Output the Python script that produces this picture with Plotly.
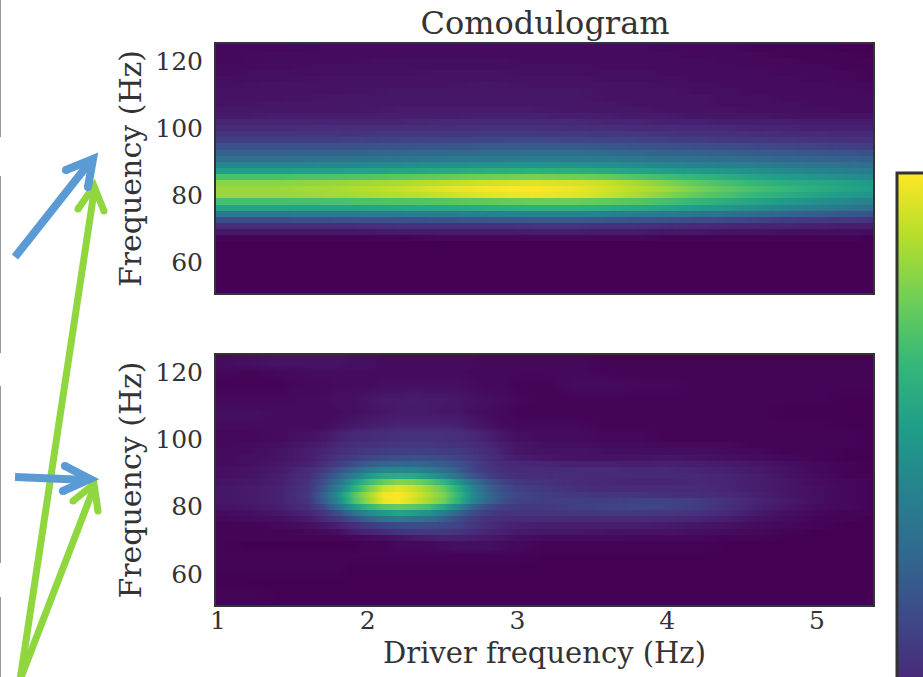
import plotly.graph_objects as go

W, H = 923, 677
FONT = "DejaVu Serif"
INK = "#333333"

tick_freq = [60, 80, 100, 120]
tick_driver = [1, 2, 3, 4, 5]
title_text = "Comodulogram"
xlabel = "Driver frequency (Hz)"
ylabel = "Frequency (Hz)"

top_driver = [1.0, 1.4, 1.8, 2.2, 2.5, 2.8, 3.1, 3.4, 3.6, 3.8, 4.0, 4.2, 4.4, 4.6, 4.8, 5.0, 5.2, 5.38]
top_freq = [123.6, 121.8, 120.0, 118.2, 116.3, 114.5, 112.7, 110.9, 109.0, 107.2, 105.4, 103.6, 101.8,
            99.9, 98.1, 96.3, 94.5, 92.6, 90.8, 89.0, 87.2, 85.3, 83.5, 81.7, 79.9, 78.1, 76.2, 74.4,
            72.6, 70.8, 68.9, 67.1, 65.3, 63.5, 61.7, 59.8, 58.0, 56.2, 54.4, 52.5, 50.7]
top_power = [
    [2, 2, 3, 3, 3, 3, 3, 3, 3, 3, 2, 2, 2, 1, 1, 1, 0, 0],
    [2, 3, 3, 3, 3, 3, 3, 3, 3, 3, 3, 2, 2, 2, 1, 1, 1, 0],
    [2, 3, 3, 4, 4, 4, 3, 3, 3, 3, 3, 3, 2, 2, 2, 1, 1, 1],
    [3, 3, 4, 4, 4, 4, 4, 4, 3, 3, 3, 3, 3, 2, 2, 2, 1, 1],
    [3, 4, 4, 4, 5, 5, 4, 4, 4, 4, 3, 3, 3, 3, 2, 2, 2, 1],
    [4, 4, 5, 5, 5, 5, 5, 5, 4, 4, 4, 3, 3, 3, 3, 2, 2, 1],
    [4, 5, 5, 5, 5, 6, 5, 5, 5, 5, 4, 4, 3, 3, 3, 3, 2, 2],
    [5, 5, 5, 6, 6, 6, 6, 6, 5, 5, 5, 4, 4, 3, 3, 3, 3, 2],
    [5, 5, 6, 6, 6, 6, 6, 6, 5, 5, 5, 5, 4, 4, 3, 3, 3, 3],
    [5, 6, 6, 6, 6, 6, 6, 6, 6, 5, 5, 5, 4, 4, 4, 3, 3, 3],
    [6, 6, 6, 7, 7, 7, 7, 6, 6, 6, 5, 5, 5, 4, 4, 4, 3, 3],
    [7, 8, 8, 8, 8, 9, 9, 8, 8, 7, 7, 6, 6, 6, 5, 5, 5, 5],
    [10, 10, 10, 10, 11, 11, 11, 11, 10, 10, 9, 9, 8, 8, 8, 7, 7, 7],
    [12, 12, 13, 13, 13, 14, 14, 13, 13, 12, 12, 11, 11, 10, 10, 9, 9, 9],
    [15, 15, 15, 16, 16, 17, 17, 17, 16, 16, 15, 14, 14, 13, 12, 12, 11, 11],
    [19, 19, 19, 20, 21, 21, 22, 21, 21, 20, 19, 18, 17, 17, 16, 15, 14, 14],
    [25, 25, 25, 26, 27, 28, 28, 28, 27, 26, 25, 24, 23, 22, 21, 20, 19, 18],
    [31, 31, 32, 33, 34, 35, 36, 36, 35, 33, 32, 31, 30, 29, 28, 27, 26, 25],
    [37, 37, 38, 39, 40, 42, 42, 42, 41, 39, 38, 37, 36, 35, 33, 32, 31, 30],
    [46, 46, 47, 48, 50, 51, 52, 51, 50, 48, 46, 44, 43, 42, 40, 39, 37, 36],
    [56, 56, 57, 58, 60, 62, 63, 62, 60, 58, 56, 54, 52, 50, 47, 45, 43, 41],
    [71, 71, 72, 74, 76, 78, 79, 78, 76, 72, 69, 66, 62, 58, 55, 52, 49, 47],
    [82, 82, 84, 87, 90, 93, 95, 94, 91, 86, 80, 75, 70, 66, 62, 60, 57, 54],
    [85, 85, 87, 91, 96, 99, 100, 97, 93, 89, 85, 79, 74, 70, 66, 62, 58, 55],
    [84, 84, 86, 89, 92, 96, 98, 96, 92, 87, 81, 75, 71, 66, 62, 58, 54, 51],
    [70, 70, 71, 72, 73, 75, 77, 77, 75, 73, 70, 66, 62, 58, 54, 50, 47, 44],
    [58, 58, 58, 59, 60, 62, 63, 63, 62, 60, 58, 55, 52, 49, 45, 42, 39, 36],
    [41, 41, 42, 42, 43, 44, 45, 45, 44, 42, 41, 39, 37, 34, 32, 29, 27, 25],
    [24, 24, 25, 25, 26, 27, 28, 28, 27, 26, 25, 23, 22, 20, 18, 17, 16, 15],
    [13, 13, 13, 14, 14, 14, 15, 15, 14, 14, 13, 12, 11, 10, 10, 9, 8, 8],
    [6, 6, 6, 7, 7, 7, 8, 8, 7, 7, 6, 6, 5, 5, 4, 4, 4, 3],
    [1, 1, 1, 1, 2, 2, 2, 2, 2, 2, 1, 1, 1, 1, 1, 1, 1, 0],
    [0, 0, 0, 0, 0, 0, 0, 0, 0, 0, 0, 0, 0, 0, 0, 0, 0, 0],
    [0, 0, 0, 0, 0, 0, 0, 0, 0, 0, 0, 0, 0, 0, 0, 0, 0, 0],
    [0, 0, 0, 0, 0, 0, 0, 0, 0, 0, 0, 0, 0, 0, 0, 0, 0, 0],
    [0, 0, 0, 0, 0, 0, 0, 0, 0, 0, 0, 0, 0, 0, 0, 0, 0, 0],
    [0, 0, 0, 0, 0, 0, 0, 0, 0, 0, 0, 0, 0, 0, 0, 0, 0, 0],
    [0, 0, 0, 0, 0, 0, 0, 0, 0, 0, 0, 0, 0, 0, 0, 0, 0, 0],
    [0, 0, 0, 0, 0, 0, 0, 0, 0, 0, 0, 0, 0, 0, 0, 0, 0, 0],
    [0, 0, 0, 0, 0, 0, 0, 0, 0, 0, 0, 0, 0, 0, 0, 0, 0, 0],
    [0, 0, 0, 0, 0, 0, 0, 0, 0, 0, 0, 0, 0, 0, 0, 0, 0, 0],
]

bottom_driver = [1.0, 1.2, 1.4, 1.6, 1.7, 1.8, 1.9, 2.0, 2.1, 2.2, 2.3, 2.4, 2.5, 2.6, 2.7, 2.8, 2.9, 3.0,
                 3.2, 3.4, 3.6, 3.8, 4.0, 4.2, 4.4, 4.6, 4.8, 5.0, 5.2, 5.38]
bottom_freq = [124, 120, 116, 112, 108, 104, 100.0, 98.2, 96.4, 94.5, 92.7, 90.9, 89.1, 87.2, 85.4, 83.6,
               81.7, 79.9, 78.1, 76.3, 74.4, 72.6, 70.8, 69.0, 66, 62, 58, 54, 51]
bottom_power = [
    [3, 4, 5, 5, 5, 5, 4, 4, 3, 3, 3, 3, 3, 3, 3, 2, 2, 2, 2, 2, 1, 1, 1, 1, 1, 1, 1, 1, 1, 1],
    [2, 1, 2, 3, 3, 3, 3, 3, 3, 3, 3, 3, 3, 3, 2, 2, 2, 2, 2, 2, 1, 1, 1, 1, 1, 1, 1, 1, 1, 1],
    [1, 1, 1, 2, 2, 3, 3, 3, 4, 4, 4, 4, 4, 4, 3, 2, 2, 1, 1, 3, 3, 2, 2, 1, 1, 1, 1, 1, 1, 1],
    [2, 2, 2, 3, 3, 4, 4, 6, 7, 7, 8, 7, 7, 6, 5, 4, 3, 2, 1, 1, 1, 1, 1, 1, 1, 1, 1, 1, 0, 0],
    [4, 4, 3, 3, 3, 3, 4, 5, 6, 7, 7, 7, 6, 6, 4, 3, 2, 1, 1, 1, 1, 1, 1, 1, 1, 1, 0, 0, 0, 0],
    [3, 3, 3, 3, 3, 5, 7, 8, 9, 10, 10, 10, 10, 9, 7, 5, 3, 2, 2, 2, 1, 1, 1, 1, 1, 1, 1, 1, 0, 0],
    [2, 2, 3, 5, 6, 9, 11, 12, 13, 14, 14, 14, 14, 13, 11, 9, 6, 4, 3, 3, 2, 2, 1, 1, 1, 1, 1, 1, 1, 0],
    [2, 3, 4, 7, 8, 11, 13, 14, 15, 16, 16, 16, 15, 14, 13, 11, 8, 6, 4, 4, 3, 3, 2, 2, 2, 1, 1, 1, 1, 0],
    [3, 3, 5, 8, 10, 13, 15, 17, 18, 19, 19, 19, 18, 17, 15, 12, 9, 6, 5, 5, 4, 4, 4, 4, 3, 2, 1, 1, 0, 0],
    [3, 4, 5, 8, 11, 15, 18, 21, 23, 24, 25, 24, 23, 20, 17, 13, 10, 8, 6, 5, 5, 5, 6, 5, 4, 3, 2, 1, 0, 0],
    [3, 4, 6, 9, 13, 18, 24, 29, 32, 33, 33, 32, 29, 25, 20, 15, 12, 11, 10, 9, 9, 8, 9, 8, 7, 6, 4, 2, 1, 0],
    [4, 5, 7, 12, 17, 25, 33, 41, 46, 47, 46, 42, 36, 29, 21, 16, 13, 12, 12, 12, 12, 11, 11, 10, 9, 7, 5, 2, 1, 0],
    [4, 5, 8, 13, 21, 31, 43, 54, 60, 62, 60, 55, 47, 37, 27, 20, 15, 13, 13, 12, 11, 11, 11, 11, 10, 8, 5, 3, 1, 1],
    [5, 6, 8, 14, 24, 37, 54, 68, 76, 82, 80, 74, 66, 52, 38, 27, 20, 16, 14, 12, 11, 10, 10, 11, 10, 8, 6, 3, 2, 1],
    [6, 7, 9, 15, 27, 43, 62, 78, 92, 96, 92, 85, 76, 62, 46, 32, 24, 19, 16, 13, 12, 12, 12, 12, 10, 8, 6, 4, 2, 1],
    [6, 7, 9, 16, 31, 50, 72, 86, 98, 100, 95, 88, 80, 66, 48, 34, 26, 21, 18, 16, 15, 15, 14, 13, 12, 9, 6, 4, 2, 1],
    [6, 7, 9, 15, 29, 47, 70, 84, 97, 100, 93, 86, 78, 64, 46, 33, 25, 20, 18, 19, 19, 20, 20, 18, 14, 10, 7, 4, 2, 1],
    [5, 6, 8, 13, 22, 37, 54, 66, 73, 76, 74, 70, 60, 46, 32, 23, 18, 17, 17, 19, 20, 21, 20, 18, 13, 9, 6, 3, 2, 1],
    [3, 4, 6, 10, 15, 24, 36, 47, 54, 58, 56, 50, 42, 32, 23, 18, 15, 15, 15, 16, 17, 17, 16, 14, 11, 7, 4, 2, 1, 1],
    [2, 3, 4, 7, 11, 16, 24, 32, 38, 40, 39, 36, 30, 23, 18, 14, 13, 12, 12, 12, 12, 12, 11, 10, 8, 5, 3, 1, 1, 0],
    [1, 1, 2, 4, 6, 9, 13, 17, 20, 22, 23, 23, 22, 20, 16, 13, 10, 9, 8, 8, 8, 8, 7, 6, 5, 3, 2, 1, 0, 0],
    [1, 1, 1, 2, 3, 4, 8, 10, 12, 15, 16, 16, 16, 15, 12, 10, 9, 7, 6, 6, 5, 5, 5, 4, 3, 2, 1, 0, 0, 0],
    [1, 1, 1, 1, 1, 1, 2, 3, 4, 5, 7, 8, 9, 9, 8, 7, 6, 4, 3, 3, 3, 2, 2, 2, 1, 1, 0, 0, 0, 0],
    [1, 0, 0, 0, 0, 0, 0, 1, 1, 2, 2, 2, 3, 4, 4, 4, 3, 2, 1, 1, 1, 1, 1, 1, 0, 0, 0, 0, 0, 0],
    [1, 1, 1, 1, 1, 1, 1, 1, 1, 1, 1, 1, 1, 1, 1, 1, 1, 1, 0, 0, 0, 0, 0, 0, 0, 0, 0, 0, 0, 0],
    [1, 1, 1, 1, 1, 1, 0, 0, 0, 0, 0, 0, 0, 0, 0, 0, 0, 0, 0, 0, 0, 0, 0, 0, 0, 0, 0, 0, 0, 0],
    [0, 0, 0, 0, 0, 0, 0, 0, 0, 0, 0, 0, 0, 0, 0, 0, 0, 0, 0, 0, 0, 0, 0, 0, 0, 0, 0, 0, 0, 0],
    [1, 1, 0, 0, 0, 0, 0, 0, 0, 0, 0, 0, 0, 0, 0, 0, 0, 0, 0, 0, 0, 0, 0, 0, 0, 0, 0, 0, 0, 0],
    [1, 1, 0, 0, 0, 0, 0, 0, 0, 0, 0, 0, 0, 0, 0, 0, 0, 0, 0, 0, 0, 0, 0, 0, 0, 0, 0, 0, 0, 0],
]


def px(x):
    return x / W


def py(y):
    return 1 - y / H


def stepped_rows(freqs, rows):
    """Keep finely spaced frequency rows as flat bands by giving each two y positions, ascending,
    so zsmooth only blends along the driver axis there; wider-spaced rows stay single."""
    pairs = sorted(zip(freqs, rows), key=lambda p: p[0])
    ys, zs = [], []
    for i, (f, row) in enumerate(pairs):
        below = f - pairs[i - 1][0] if i else 1.9
        above = pairs[i + 1][0] - f if i < len(pairs) - 1 else 1.9
        if below > 2.5 and above > 2.5:
            ys.append(f)
            zs.append(row)
            continue
        lo = f - below / 2 + 0.02 if i else f - 1
        hi = f + above / 2 - 0.02 if i < len(pairs) - 1 else f + 1.5
        ys += [lo, hi]
        zs += [row, row]
    return ys, zs


fig = go.Figure()
ty, tz = stepped_rows(top_freq, top_power)
by, bz = stepped_rows(bottom_freq, bottom_power)
fig.add_trace(go.Heatmap(x=top_driver, y=ty, z=tz, coloraxis="coloraxis", zsmooth="best",
                         xaxis="x", yaxis="y"))
fig.add_trace(go.Heatmap(x=bottom_driver, y=by, z=bz, coloraxis="coloraxis", zsmooth="best",
                         xaxis="x2", yaxis="y2"))

# Annotation strokes drawn over the page, in page pixels
GREEN, BLUE = "#8fd63f", "#5b9bd5"
shapes = []


def stroke(points, color, width=7, caps=()):
    path = "M " + " L ".join(f"{px(a):.5f} {py(b):.5f}" for a, b in points)
    shapes.append(dict(type="path", xref="paper", yref="paper", path=path,
                       line=dict(color=color, width=width), layer="above"))
    for a, b in caps:
        r = width / 2
        shapes.append(dict(type="circle", xref="paper", yref="paper",
                           x0=px(a - r), x1=px(a + r), y0=py(b + r), y1=py(b - r),
                           fillcolor=color, line=dict(width=0), layer="above"))


for seg in [(0, 137), (176, 353), (386, 563), (597, 677)]:
    shapes.append(dict(type="line", xref="paper", yref="paper", x0=0, x1=0, y0=py(seg[0]), y1=py(seg[1]),
                       line=dict(color="#999999", width=2), layer="above"))

stroke([(20, 680), (94, 192)], GREEN)
stroke([(78, 209), (94, 186), (104, 211)], GREEN, caps=[(78, 209), (104, 211)])
stroke([(20, 680), (93, 490)], GREEN)
stroke([(73, 501), (94, 484), (98, 511)], GREEN, caps=[(73, 501), (98, 511)])
stroke([(15, 257), (90, 162)], BLUE, width=8)
stroke([(66, 170), (93, 159), (88, 187)], BLUE, width=8, caps=[(66, 170), (88, 187)])
stroke([(15, 477), (88, 480)], BLUE, width=8)
stroke([(65, 466), (90, 479), (63, 491)], BLUE, width=8, caps=[(65, 466), (63, 491)])

axis_common = dict(showline=True, mirror=True, linecolor=INK, linewidth=2, ticks="", showgrid=False,
                   zeroline=False, tickfont=dict(family=FONT, size=25, color=INK), automargin=False)
xrange_ = [0.987, 5.375]
yrange_ = [50.8, 125]
XDOM = [px(216), px(873)]

fig.update_layout(
    width=W, height=H,
    margin=dict(l=0, r=0, t=0, b=0, autoexpand=False),
    paper_bgcolor="white", plot_bgcolor="white",
    title=dict(text=title_text, x=px(545), xanchor="center", y=py(23), yanchor="middle",
               font=dict(family=FONT, size=32, color=INK)),
    coloraxis=dict(colorscale="Viridis", cmin=0, cmax=100,
                   colorbar=dict(x=px(897), xanchor="left", xpad=0, ypad=0, thickness=60,
                                 y=py(173), yanchor="top", len=573 / H, lenmode="fraction",
                                 outlinecolor=INK, outlinewidth=3, showticklabels=False, ticks="")),
    xaxis=dict(domain=XDOM, range=xrange_, anchor="y", showticklabels=False,
               tickvals=tick_driver, **axis_common),
    yaxis=dict(domain=[py(293), py(44)], range=yrange_, anchor="x", tickvals=tick_freq,
               ticklabelstandoff=6,
               title=dict(text=ylabel, font=dict(family=FONT, size=30, color=INK), standoff=5), **axis_common),
    xaxis2=dict(domain=XDOM, range=xrange_, anchor="y2", tickvals=tick_driver,
                ticklabelstandoff=-8,
                title=dict(text=xlabel, font=dict(family=FONT, size=29, color=INK), standoff=9), **axis_common),
    yaxis2=dict(domain=[py(605), py(355)], range=yrange_, anchor="x2", tickvals=tick_freq,
                ticklabelstandoff=6,
                title=dict(text=ylabel, font=dict(family=FONT, size=30, color=INK), standoff=5), **axis_common),
    shapes=shapes,
)

fig.write_html("out.html", config=dict(displayModeBar=False),
               post_script="document.body.style.margin='0';document.body.style.overflow='hidden';")
